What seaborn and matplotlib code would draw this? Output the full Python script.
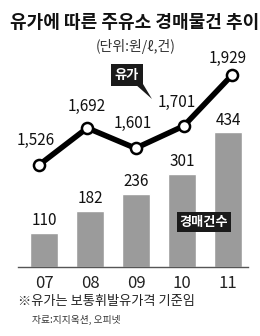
import matplotlib
matplotlib.use("Agg")
import matplotlib.pyplot as plt
from matplotlib.patches import Polygon
import seaborn as sns

# ---- data ----
years = ["07", "08", "09", "10", "11"]
auctions = [110, 182, 236, 301, 434]
oil_price = [1526, 1692, 1601, 1701, 1929]
oil_labels = ["1,526", "1,692", "1,601", "1,701", "1,929"]

title = "유가에 따른 주유소 경매물건 추이"
unit = "(단위:원/ℓ,건)"
note = "※유가는 보통휘발유가격 기준임"
source = "자료:지지옥션, 오피넷"

sns.set_style("white")
plt.rcParams["font.family"] = ["Noto Sans CJK KR", "DejaVu Sans"]

W, H = 260, 336
fig = plt.figure(figsize=(W / 100, H / 100), dpi=100)
fig.patch.set_facecolor("white")

def px(x, y):
    return x / W, 1 - y / H

rect = [18 / W, (H - 267) / H, 230 / W, 227 / H]

# ---- bars ----
ax = fig.add_axes(rect)
sns.barplot(x=years, y=auctions, ax=ax, color="#9b9b9b", saturation=1,
            width=0.61, errorbar=None)
ax.set_xlim(-0.565, 4.43)
ax.set_ylim(0, 732)
for s in ["top", "right", "left"]:
    ax.spines[s].set_visible(False)
ax.spines["bottom"].set_color("#555555")
ax.spines["bottom"].set_linewidth(1.0)
ax.set_yticks([])
ax.set_xlabel("")
ax.set_ylabel("")
ax.tick_params(axis="x", length=0, pad=5.5, labelsize=12, labelcolor="#222222")
ax.bar_label(ax.containers[0], labels=[str(v) for v in auctions],
             padding=2.5, fontsize=11, color="#111111")
ax.patch.set_alpha(0)

# ---- oil price line ----
ax2 = fig.add_axes(rect)
sns.pointplot(x=years, y=oil_price, ax=ax2, color="black", errorbar=None,
              linewidth=4, markersize=8, markerfacecolor="white",
              markeredgecolor="black", markeredgewidth=1.8)
ax2.set_xlim(-0.435, 4.33)
ax2.set_ylim(1069, 2086)
ax2.axis("off")
ax2.patch.set_alpha(0)

offsets = [(-3, 25), (-1, 21), (-3, 25), (-7, 23), (-4, 17)]
for i, (v, lab) in enumerate(zip(oil_price, oil_labels)):
    ax2.annotate(lab, xy=(i, v), xytext=offsets[i], textcoords="offset pixels",
                 ha="center", va="center", fontsize=11, color="#111111")

# ---- callout boxes ----
fig.text(*px(127, 75), "유가", ha="center", va="center", fontsize=9.5,
         fontweight="bold", color="white",
         bbox=dict(boxstyle="square,pad=0.3", fc="#1a1a1a", ec="none"))
tail = Polygon([px(135, 84), px(143, 84), px(152, 99)], closed=True,
               transform=fig.transFigure, fc="#1a1a1a", ec="none")
fig.patches.append(tail)

fig.text(*px(204, 222), "경매건수", ha="center", va="center", fontsize=9.5,
         fontweight="bold", color="white",
         bbox=dict(boxstyle="square,pad=0.2", fc="#1a1a1a", ec="none"))

# ---- titles and notes ----
fig.text(*px(135, 22), title, ha="center", va="center", fontsize=13,
         fontweight="black", color="#111111")
fig.text(*px(136, 47), unit, ha="center", va="center", fontsize=10,
         color="#333333")
fig.text(*px(18, 302), note, ha="left", va="center", fontsize=9.5,
         color="#222222")
fig.text(*px(32, 320), source, ha="left", va="center", fontsize=7,
         color="#333333")

fig.savefig("out.png", dpi=100)
